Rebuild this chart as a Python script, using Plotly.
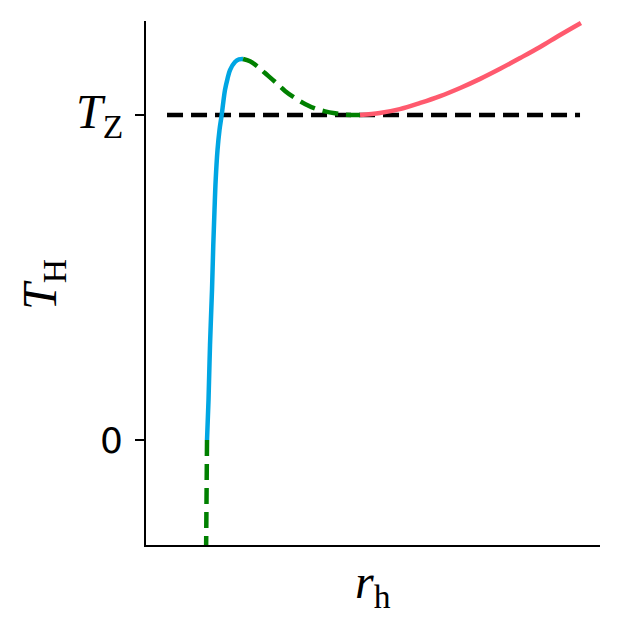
import plotly.graph_objects as go

# Data (arbitrary units: r_h on x, T_H on y with T_Z = 1)
blue_r = [1.344, 1.377, 1.410, 1.454, 1.482, 1.509, 1.535, 1.575, 1.619, 1.667,
          1.703, 1.740, 1.795, 1.850, 1.960, 2.048, 2.137]
blue_T = [0.0, 0.123, 0.292, 0.462, 0.600, 0.708, 0.800, 0.892, 0.954, 1.0,
          1.040, 1.077, 1.111, 1.138, 1.163, 1.171, 1.172]

green_r = [2.137, 2.291, 2.467, 2.621, 2.841, 3.062, 3.282, 3.502, 3.722, 3.943,
           4.163, 4.383, 4.714]
green_T = [1.172, 1.165, 1.148, 1.129, 1.102, 1.074, 1.052, 1.034, 1.020, 1.011,
           1.005, 1.001, 1.0]

red_r = [4.714, 5.15, 5.59, 6.04, 6.48, 6.92, 7.36, 7.80, 8.24, 8.68, 9.12, 9.58]
red_T = [1.0, 1.006, 1.018, 1.037, 1.058, 1.083, 1.111, 1.142, 1.175, 1.209, 1.246, 1.283]

neg_r = [1.344, 1.33, 1.32]
neg_T = [0.0, -0.2, -0.4]

tz_r = [0.463, 9.56]
tz_T = [1.0, 1.0]

ytick_vals = [0, 1]
ytick_text = ["0", "<i>T</i><sub>Z</sub>"]
ytick_fonts = [dict(family="DejaVu Sans", size=36, color="black"),
               dict(family="Liberation Serif", size=48, color="black")]

DASH = "16px,8px"
LW = 4.5

fig = go.Figure()
fig.add_trace(go.Scatter(x=tz_r, y=tz_T, mode="lines",
                         line=dict(color="black", width=LW, dash=DASH)))
fig.add_trace(go.Scatter(x=neg_r, y=neg_T, mode="lines",
                         line=dict(color="#008000", width=LW, dash=DASH)))
fig.add_trace(go.Scatter(x=blue_r, y=blue_T, mode="lines", line_shape="spline",
                         line=dict(color="#00a6e3", width=LW)))
fig.add_trace(go.Scatter(x=green_r, y=green_T, mode="lines", line_shape="spline",
                         line=dict(color="#008000", width=LW, dash=DASH)))
fig.add_trace(go.Scatter(x=red_r, y=red_T, mode="lines", line_shape="spline",
                         line=dict(color="#ff5a6e", width=LW)))

annotations = []
for v, t, f in zip(ytick_vals, ytick_text, ytick_fonts):
    annotations.append(dict(text=t, xref="paper", yref="y", x=0, y=v,
                            xanchor="right", yanchor="middle", xshift=-21,
                            showarrow=False, font=f))
annotations += [
    dict(text="<i>r</i><sub>h</sub>", xref="paper", yref="paper",
         x=0.5, y=-0.076, xanchor="center", yanchor="middle", showarrow=False,
         font=dict(family="Liberation Serif", size=48, color="black")),
    dict(text="<i>T</i><sub>H</sub>", xref="paper", yref="paper",
         x=-0.227, y=0.498, xanchor="center", yanchor="middle", showarrow=False,
         textangle=-90,
         font=dict(family="Liberation Serif", size=48, color="black")),
]

fig.update_layout(
    width=623, height=623,
    margin=dict(l=138, r=31, t=13, b=86),
    paper_bgcolor="white", plot_bgcolor="white",
    showlegend=False,
    xaxis=dict(range=[0, 10], showgrid=False, zeroline=False, showline=True,
               linecolor="black", linewidth=2, ticks="", showticklabels=False),
    yaxis=dict(range=[-0.323, 1.289], showgrid=False, zeroline=False, showline=True,
               linecolor="black", linewidth=2, ticks="outside", ticklen=9, tickwidth=2,
               tickcolor="black", tickvals=ytick_vals, showticklabels=False),
    annotations=annotations,
)

fig.write_html("out.html")
